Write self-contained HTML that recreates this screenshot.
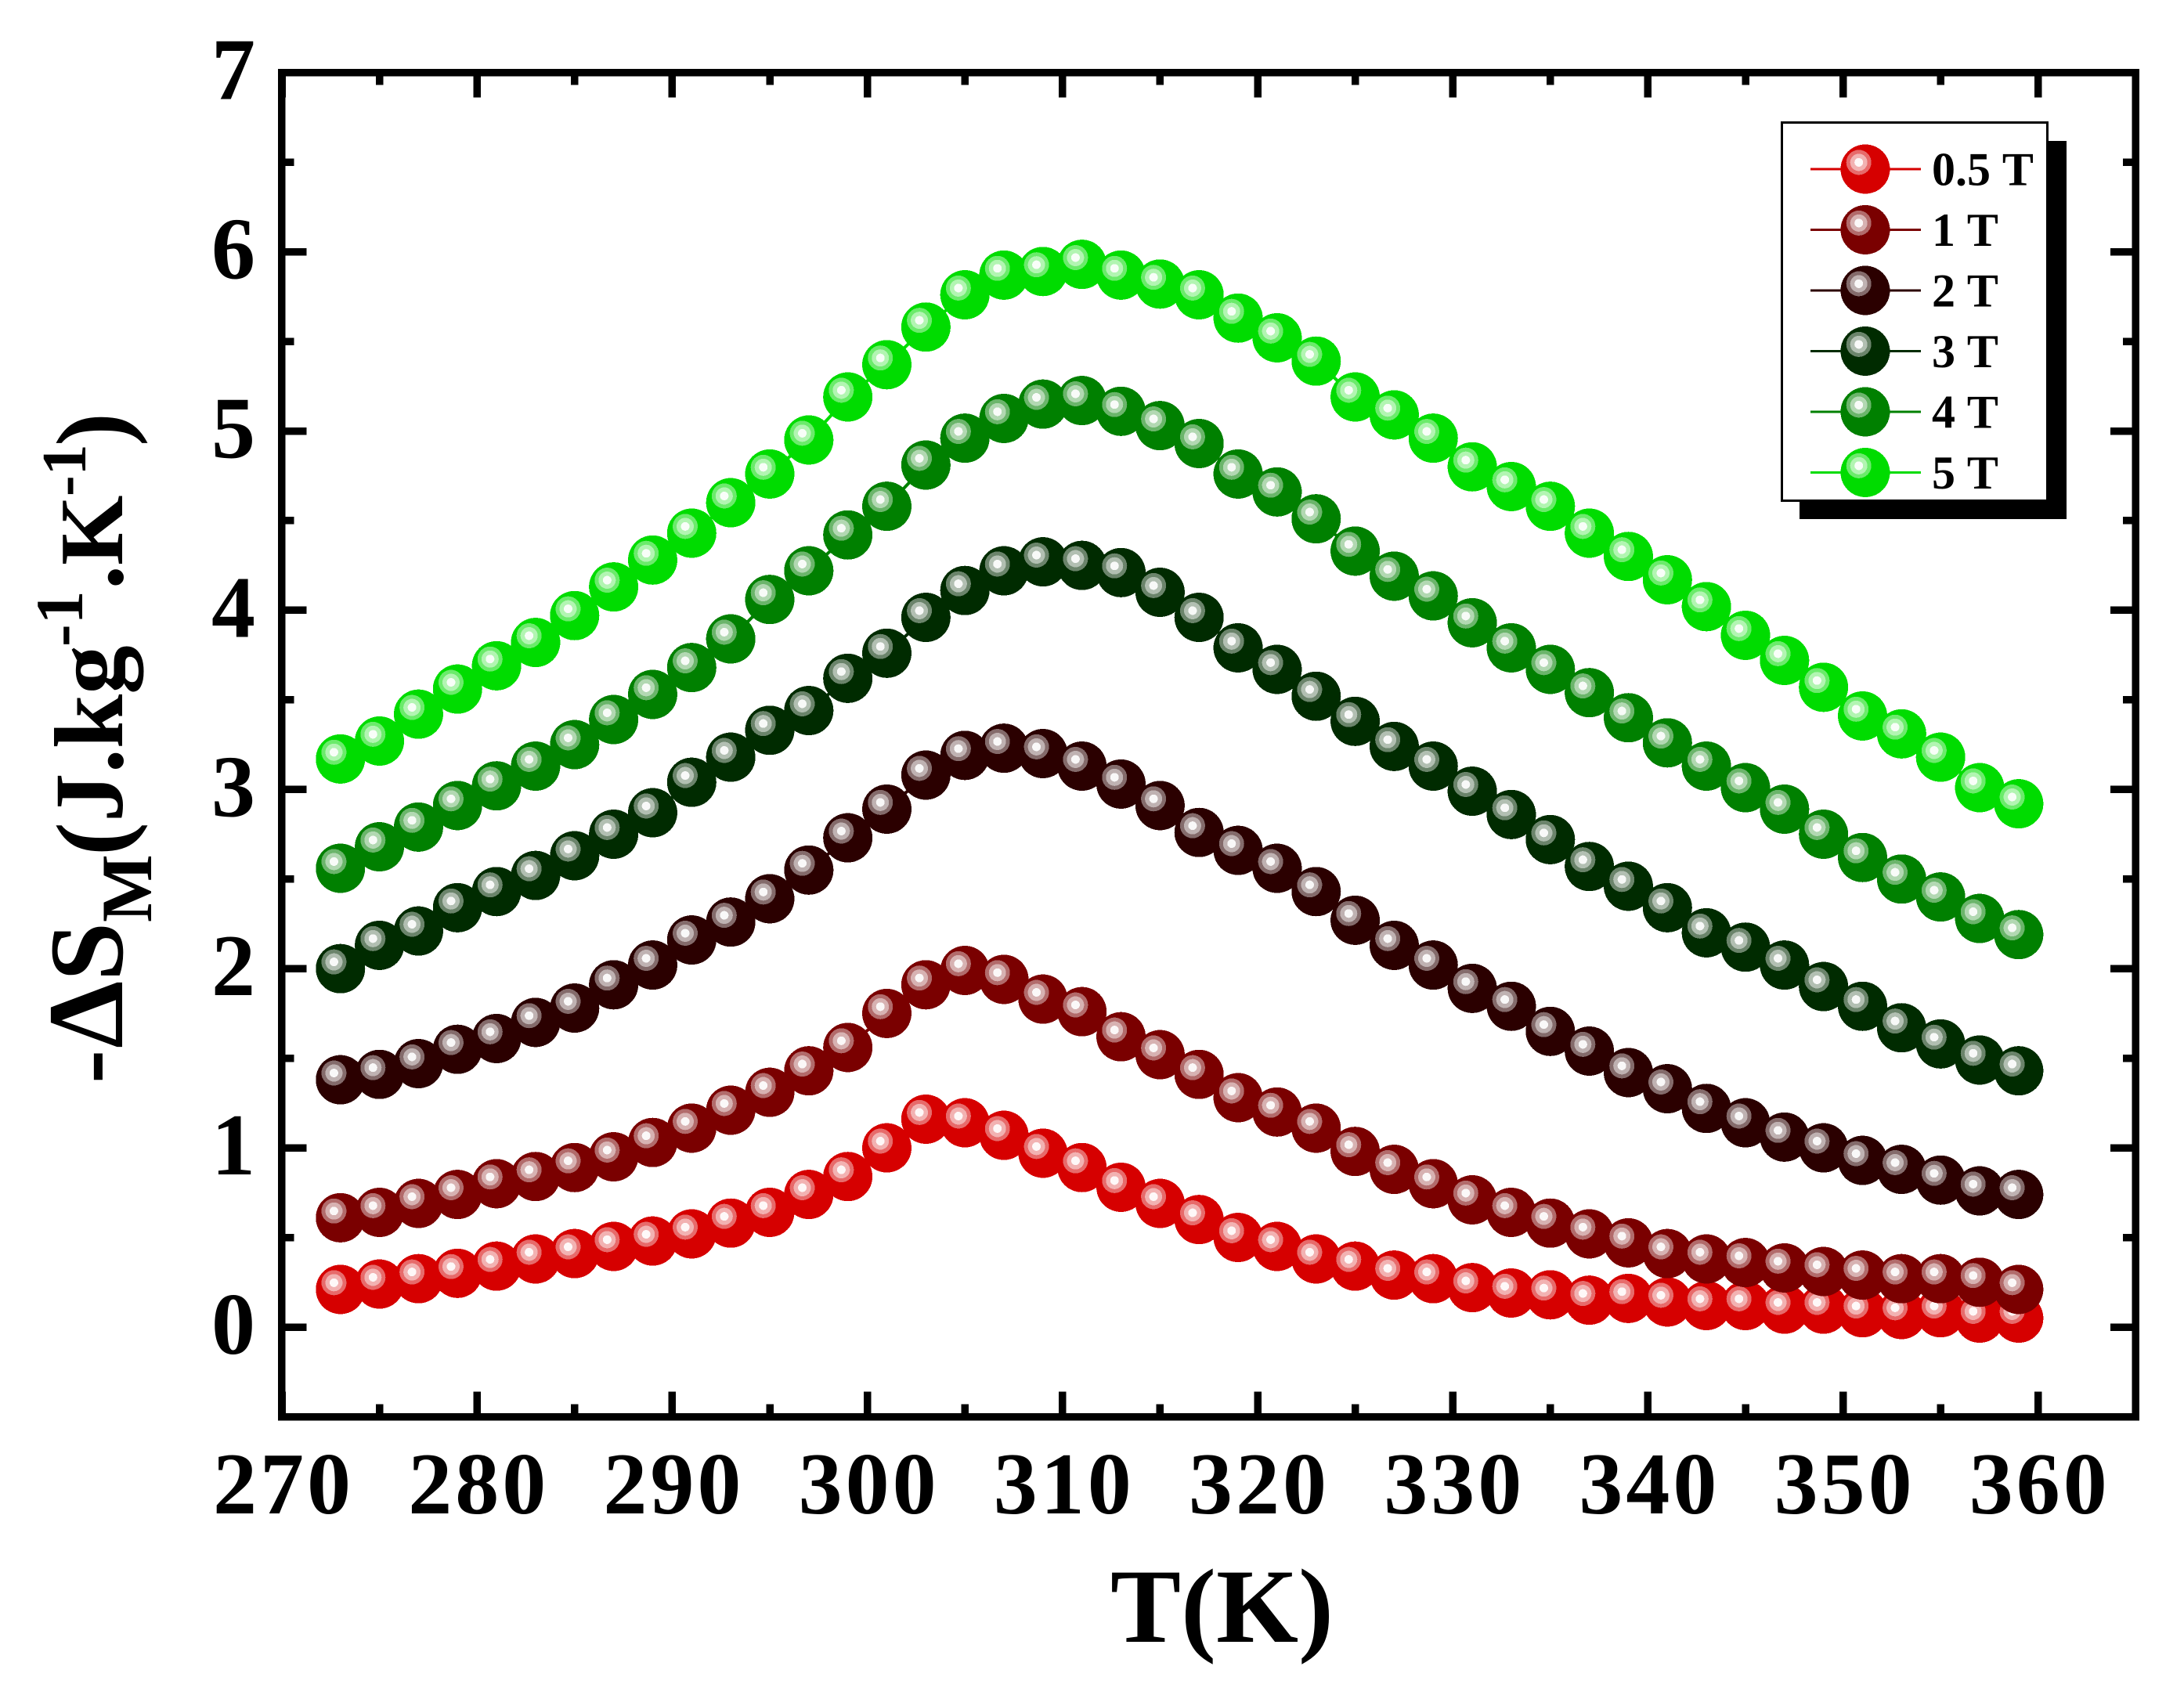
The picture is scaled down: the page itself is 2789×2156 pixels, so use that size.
<!DOCTYPE html>
<html lang="en">
<head>
<meta charset="utf-8">
<title>Magnetic entropy change vs temperature</title>
<style>
  html, body { margin: 0; padding: 0; background: #fff; }
  svg { display: block; }
  text { font-family: "Liberation Serif", "DejaVu Serif", serif; font-weight: bold; fill: #000; }
</style>
</head>
<body>
<svg id="chart" xmlns="http://www.w3.org/2000/svg" width="2789" height="2156" viewBox="0 0 2789 2156">
  <rect x="0" y="0" width="2789" height="2156" fill="#fff"/>
  <g id="series-layer"></g>
  <g id="axes-layer"></g>
  <text x="1418" y="2097" font-size="135">T(K)</text>
  <text transform="translate(156 1380) rotate(-90)" font-size="125"><tspan x="-4" y="0" font-size="130">-</tspan><tspan x="41" y="0" font-size="138">Δ</tspan><tspan x="127" y="0" font-size="135">S</tspan><tspan x="202" y="37" font-size="92">M</tspan><tspan x="287" y="5" font-size="129">(</tspan><tspan x="330" y="0">J.kg</tspan><tspan x="554" y="-51" font-size="86">-1</tspan><tspan x="627" y="0">.</tspan><tspan x="658" y="0" font-size="115">K</tspan><tspan x="746" y="-47" font-size="80">-1</tspan><tspan x="810" y="5" font-size="129">)</tspan></text>
  <g id="legend-layer"></g>
</svg>
<script>
var temperatures = [273,275,277,279,281,283,285,287,289,291,293,295,297,299,301,303,305,307,309,311,313,315,317,319,321,323,325,327,329,331,333,335,337,339,341,343,345,347,349,351,353,355,357,359];
var values05T = [0.21,0.24,0.27,0.30,0.34,0.38,0.41,0.45,0.48,0.52,0.58,0.64,0.74,0.84,1.00,1.16,1.14,1.07,0.97,0.89,0.78,0.69,0.60,0.50,0.45,0.38,0.34,0.29,0.27,0.22,0.19,0.18,0.15,0.16,0.14,0.12,0.12,0.10,0.10,0.08,0.07,0.08,0.05,0.05];
var values1T = [0.61,0.64,0.69,0.74,0.80,0.84,0.89,0.95,1.03,1.11,1.21,1.31,1.43,1.56,1.75,1.91,1.99,1.94,1.83,1.76,1.62,1.52,1.41,1.28,1.20,1.11,0.98,0.88,0.80,0.71,0.64,0.58,0.52,0.47,0.41,0.38,0.36,0.33,0.31,0.29,0.27,0.27,0.25,0.21];
var values2T = [1.38,1.41,1.47,1.55,1.61,1.70,1.78,1.91,2.02,2.16,2.26,2.39,2.55,2.73,2.89,3.08,3.19,3.23,3.20,3.13,3.03,2.91,2.76,2.66,2.56,2.43,2.27,2.13,2.02,1.89,1.79,1.65,1.54,1.42,1.33,1.22,1.14,1.06,1.00,0.93,0.88,0.82,0.76,0.74];
var values3T = [2.00,2.13,2.21,2.34,2.43,2.52,2.63,2.75,2.87,3.04,3.18,3.33,3.44,3.62,3.76,3.96,4.11,4.22,4.27,4.25,4.21,4.10,3.96,3.79,3.67,3.52,3.38,3.24,3.13,2.99,2.86,2.72,2.57,2.46,2.34,2.20,2.12,2.02,1.90,1.79,1.67,1.58,1.49,1.43];
var values4T = [2.56,2.68,2.79,2.91,3.02,3.13,3.25,3.39,3.53,3.68,3.84,4.06,4.22,4.42,4.58,4.81,4.96,5.07,5.15,5.17,5.11,5.03,4.93,4.76,4.66,4.51,4.33,4.19,4.08,3.93,3.79,3.67,3.54,3.40,3.26,3.13,3.01,2.89,2.75,2.62,2.50,2.40,2.28,2.19];
var values5T = [3.17,3.27,3.42,3.56,3.69,3.82,3.97,4.13,4.28,4.43,4.60,4.76,4.95,5.19,5.37,5.58,5.76,5.87,5.89,5.93,5.87,5.82,5.76,5.63,5.52,5.39,5.19,5.09,4.96,4.80,4.69,4.58,4.43,4.30,4.17,4.02,3.86,3.72,3.57,3.41,3.31,3.18,3.01,2.92];
var seriesLabels = ["0.5 T","1 T","2 T","3 T","4 T","5 T"];
var seriesColors = ["#d60000","#7a0000","#2b0000","#002b00","#008000","#00dc00"];
var seriesValues = [values05T, values1T, values2T, values3T, values4T, values5T];
var xTickLabels = [270,280,290,300,310,320,330,340,350,360];
var xMinorTicks = [275,285,295,305,315,325,335,345,355];
var yTickLabels = [0,1,2,3,4,5,6,7];
var yMinorTicks = [0.5,1.5,2.5,3.5,4.5,5.5,6.5];

var SVG_NS = "http://www.w3.org/2000/svg";
var plotLeft = 359.5, plotRight = 2727, plotTop = 92.5, plotBottom = 1809.5;
function xScale(t) { return 360 + (t - 270) * 24.92; }
function yScale(v) { return 1695 - v * 228.9; }

function make(tag, attrs, parent) {
  var el = document.createElementNS(SVG_NS, tag);
  for (var k in attrs) { el.setAttribute(k, attrs[k]); }
  parent.appendChild(el);
  return el;
}

function drawBall(parent, cx, cy, color, name) {
  var g = make("g", {}, parent);
  
  
  make("circle", {cx: cx, cy: cy, r: 31.5, fill: color, "shape-rendering": "crispEdges"}, g);
  var hx = cx - 8.3, hy = cy - 8.6;
  make("circle", {cx: hx, cy: hy, r: 16, fill: "#fff", "fill-opacity": 0.42, "shape-rendering": "crispEdges"}, g);
  make("circle", {cx: hx, cy: hy, r: 11, fill: "#fff", "fill-opacity": 0.48, "shape-rendering": "crispEdges"}, g);
  make("circle", {cx: hx, cy: hy, r: 5.5, fill: "#fff", "fill-opacity": 0.9, "shape-rendering": "crispEdges"}, g);
}

function drawSeries() {
  var layer = document.getElementById("series-layer");
  seriesValues.forEach(function (vals, s) {
    var g = make("g", {}, layer);
    
    
    var pts = vals.map(function (v, i) { return xScale(temperatures[i]).toFixed(2) + "," + yScale(v).toFixed(2); });
    var line = make("polyline", {points: pts.join(" "), fill: "none", stroke: seriesColors[s], "stroke-width": 4}, g);
    
    
    vals.forEach(function (v, i) {
      drawBall(g, xScale(temperatures[i]), yScale(v), seriesColors[s], 'point-' + temperatures[i]);
    });
  });
}

function tickLine(parent, x1, y1, x2, y2, name) {
  var l = make("line", {x1: x1, y1: y1, x2: x2, y2: y2, stroke: "#000", "stroke-width": 9.5, "shape-rendering": "crispEdges"}, parent);
  
  
}

function drawAxes() {
  var layer = document.getElementById("axes-layer");
  var major = 32, minor = 16;
  var frame = make("rect", {x: plotLeft, y: plotTop, width: plotRight - plotLeft, height: plotBottom - plotTop, fill: "none", stroke: "#000", "stroke-width": 9.5, "shape-rendering": "crispEdges"}, layer);
  
  
  xTickLabels.forEach(function (t) {
    var x = xScale(t);
    tickLine(layer, x, plotBottom, x, plotBottom - major, 'x-major-tick');
    tickLine(layer, x, plotTop, x, plotTop + major, 'x-top-major-tick');
    var label = make("text", {x: x + 2, y: 1933, "font-size": 112, "letter-spacing": 4, "text-anchor": "middle"}, layer);
    
    
    label.textContent = t;
  });
  xMinorTicks.forEach(function (t) {
    var x = xScale(t);
    tickLine(layer, x, plotBottom, x, plotBottom - minor, 'x-minor-tick');
    tickLine(layer, x, plotTop, x, plotTop + minor, 'x-top-minor-tick');
  });
  yTickLabels.forEach(function (v) {
    var y = yScale(v);
    tickLine(layer, plotLeft, y, plotLeft + major, y, 'y-major-tick');
    tickLine(layer, plotRight, y, plotRight - major, y, 'y-right-major-tick');
    var label = make("text", {x: 326, y: y + 34, "font-size": 112, "text-anchor": "end"}, layer);
    
    
    label.textContent = v;
  });
  yMinorTicks.forEach(function (v) {
    var y = yScale(v);
    tickLine(layer, plotLeft, y, plotLeft + minor, y, 'y-minor-tick');
    tickLine(layer, plotRight, y, plotRight - minor, y, 'y-right-minor-tick');
  });
}

function drawLegend() {
  var layer = document.getElementById("legend-layer");
  var shadow = make("rect", {x: 2298, y: 180, width: 341, height: 483, fill: "#000", "shape-rendering": "crispEdges"}, layer);
  
  
  var box = make("rect", {x: 2275.5, y: 156.5, width: 339, height: 483, fill: "#fff", stroke: "#000", "stroke-width": 3, "shape-rendering": "crispEdges"}, layer);
  
  
  seriesLabels.forEach(function (name, i) {
    var g = make("g", {}, layer);
    
    
    var y = 216 + i * 77.5;
    make("line", {x1: 2312, y1: y, x2: 2453, y2: y, stroke: seriesColors[i], "stroke-width": 3, "shape-rendering": "crispEdges"}, g);
    drawBall(g, 2382, y, seriesColors[i], 'legend-marker');
    var t = make("text", {x: 2467, y: y + 20.4, "font-size": 60, "word-spacing": 1}, g);
    
    
    t.textContent = name;
  });
}

drawSeries();
drawAxes();
drawLegend();
</script>
</body>
</html>
